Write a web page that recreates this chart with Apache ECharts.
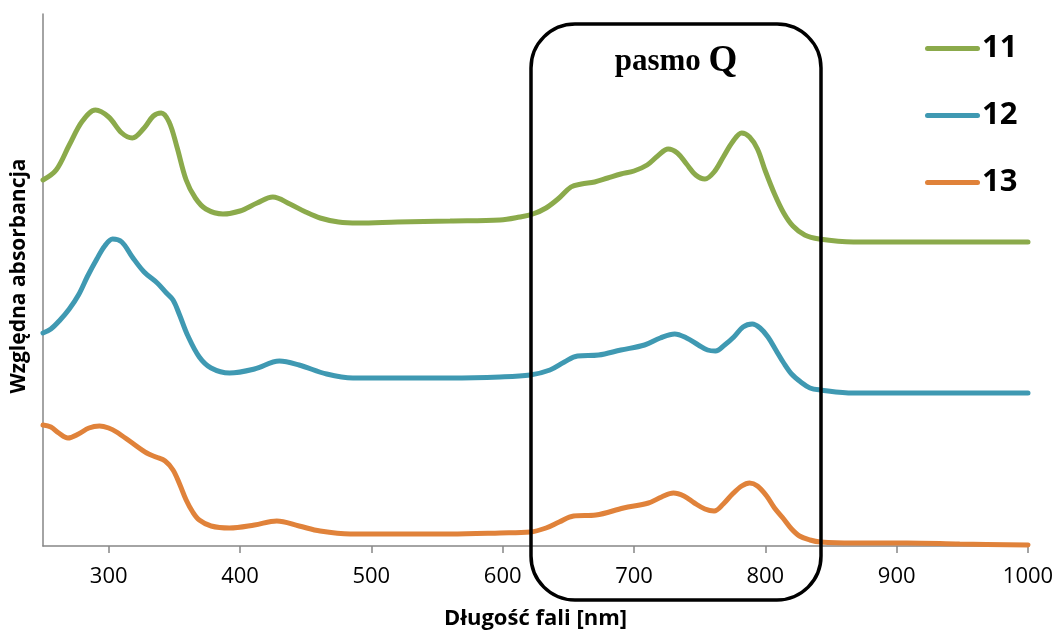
<!DOCTYPE html>
<html>
<head>
<meta charset="utf-8">
<script src="https://cdn.jsdelivr.net/npm/echarts@6/dist/echarts.min.js"></script>
<style>html,body{margin:0;padding:0;background:#fff;}#c{width:1053px;height:632px;}</style>
</head>
<body>
<div id="c"></div>
<script>
var xTicks = [300, 400, 500, 600, 700, 800, 900, 1000];

var wl11 = [250,260,270,280,290,300,310,318,327,334,340,346,352,359,366,374,387,400,413,425,438,450,461,475,490,520,560,598,613,623,633,643,652,660,670,680,690,700,710,718,726,733,740,747,754,761,768,775,782,788,794,800,807,814,821,830,841,867,921,1000];
var ab11 = [3.66,3.76,4.01,4.25,4.36,4.29,4.13,4.08,4.18,4.30,4.33,4.24,3.99,3.66,3.48,3.37,3.32,3.35,3.43,3.49,3.42,3.34,3.28,3.24,3.23,3.24,3.25,3.26,3.29,3.32,3.38,3.48,3.59,3.62,3.64,3.68,3.72,3.75,3.81,3.90,3.97,3.93,3.82,3.71,3.67,3.74,3.89,4.04,4.13,4.09,3.97,3.75,3.52,3.33,3.20,3.11,3.07,3.04,3.04,3.04];

var wl12 = [250,256,263,270,277,284,291,297,303,310,318,327,337,344,349,354,360,369,378,392,411,430,445,466,486,520,560,598,621,636,647,657,673,690,708,720,731,740,749,756,762,769,776,783,790,796,802,808,814,820,827,834,842,867,908,1000];
var ab12 = [2.13,2.17,2.26,2.37,2.51,2.70,2.87,3.00,3.07,3.04,2.89,2.74,2.63,2.53,2.46,2.31,2.11,1.89,1.78,1.73,1.77,1.85,1.81,1.72,1.68,1.68,1.68,1.69,1.71,1.76,1.84,1.90,1.91,1.96,2.01,2.08,2.12,2.08,2.01,1.96,1.95,2.01,2.09,2.19,2.22,2.18,2.09,1.96,1.83,1.72,1.64,1.58,1.56,1.53,1.53,1.53];

var wl13 = [250,256,262,269,277,285,293,300,306,318,329,336,343,349,354,359,364,369,378,392,411,428,445,461,484,522,560,598,621,633,643,654,671,692,711,721,730,738,746,754,761,768,775,782,788,794,801,807,814,820,826,834,842,867,908,948,1000];
var ab13 = [1.21,1.19,1.13,1.08,1.12,1.18,1.20,1.18,1.14,1.03,0.93,0.89,0.85,0.76,0.62,0.46,0.34,0.26,0.20,0.18,0.21,0.25,0.20,0.15,0.12,0.12,0.12,0.13,0.14,0.18,0.24,0.30,0.31,0.38,0.43,0.49,0.53,0.50,0.43,0.37,0.35,0.42,0.52,0.60,0.63,0.60,0.50,0.38,0.27,0.17,0.10,0.06,0.04,0.03,0.03,0.02,0.01];

var seriesNames = ['11', '12', '13'];
var colors = ['#8BAA4B', '#3F99B2', '#E0823A'];

function pairs(xs, ys) { return xs.map(function (x, i) { return [x, ys[i]]; }); }
var dataSets = [pairs(wl11, ab11), pairs(wl12, ab12), pairs(wl13, ab13)];

var chart = echarts.init(document.getElementById('c'));
chart.setOption({
  animation: false,
  backgroundColor: '#fff',
  grid: { left: 43, right: 25, top: 14, bottom: 86, containLabel: false, outerBoundsMode: 'none' },
  legend: {
    orient: 'vertical',
    left: 920, top: 28,
    itemWidth: 55, itemHeight: 30, itemGap: 36,
    icon: 'path://M2.5,12.5 L52.5,12.5 A2.5,2.5 0 0 1 52.5,17.5 L2.5,17.5 A2.5,2.5 0 0 1 2.5,12.5 Z',
    data: seriesNames,
    textStyle: { fontFamily: 'Open Sans', fontWeight: 'bold', fontSize: 31, color: '#000', lineHeight: 30, padding: [0, 0, 0, -3] }
  },
  xAxis: {
    type: 'value', min: 250, max: 1000,
    name: 'Długość fali [nm]', nameLocation: 'middle', nameGap: 62,
    nameTextStyle: { fontFamily: 'Open Sans', fontWeight: 'bold', fontSize: 22, color: '#000' },
    axisLine: { lineStyle: { color: '#868686', width: 1.5 } },
    axisTick: { show: true, customValues: xTicks, length: 7, lineStyle: { color: '#868686', width: 1.5 } },
    axisLabel: { customValues: xTicks, margin: 20, fontFamily: 'Open Sans', fontSize: 22, color: '#000',
      formatter: function (v) { return String(v); } },
    splitLine: { show: false }
  },
  yAxis: {
    type: 'value', min: 0, max: 5.32,
    name: 'Względna absorbancja', nameLocation: 'middle', nameGap: 13, nameRotate: 90,
    nameTextStyle: { fontFamily: 'Open Sans', fontWeight: 'bold', fontSize: 21, color: '#000', padding: [0, 0, 0, 8] },
    axisLine: { show: true, lineStyle: { color: '#868686', width: 1.5 } },
    axisTick: { show: false }, axisLabel: { show: false }, splitLine: { show: false }
  },
  series: seriesNames.map(function (n, i) {
    return {
      name: n, type: 'line', data: dataSets[i], smooth: 0.35, symbol: 'none',
      lineStyle: { color: colors[i], width: 5, cap: 'round' }, itemStyle: { color: colors[i] }, z: 2
    };
  }),
  graphic: [
    { type: 'rect', z: 100, shape: { x: 531, y: 24, width: 290, height: 576, r: 44 },
      style: { fill: 'none', stroke: '#000', lineWidth: 3.5 } },
    { type: 'text', z: 101, x: 676, y: 80,
      style: { text: '{a|pasmo }{b|Q}', align: 'center', verticalAlign: 'bottom',
        rich: { a: { fontFamily: 'Liberation Serif', fontWeight: 'bold', fontSize: 31, fill: '#000' },
                b: { fontFamily: 'Liberation Serif', fontWeight: 'bold', fontSize: 37, fill: '#000' } } } }
  ]
});
</script>
</body>
</html>
